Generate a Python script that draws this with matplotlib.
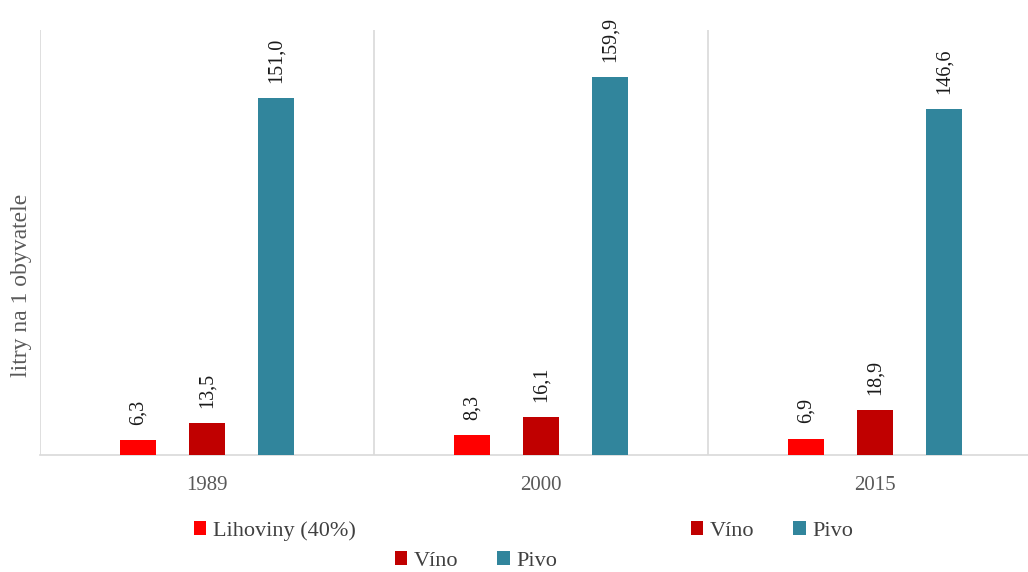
import numpy as np
import matplotlib
matplotlib.use("Agg")
from matplotlib import pyplot as plt

years = ["1989", "2000", "2015"]
lihoviny = [6.3, 8.3, 6.9]
vino = [13.5, 16.1, 18.9]
pivo = [151.0, 159.9, 146.6]

series = [
    ("Lihoviny (40%)", lihoviny, "#ff0000"),
    ("Víno", vino, "#c00000"),
    ("Pivo", pivo, "#31859c"),
]

plt.rcParams["font.family"] = ["Liberation Serif", "DejaVu Serif"]

W, H = 1028, 572
fig = plt.figure(figsize=(W / 100, H / 100), dpi=100)
ax = fig.add_axes([40 / W, 1 - 455 / H, 1002 / W, 425 / H])

x = np.arange(len(years))
width = 0.108
offset = 0.2066
bars = {}
for i, (name, vals, color) in enumerate(series):
    b = ax.bar(x + (i - 1) * offset, vals, width, color=color, label=name, zorder=3)
    bars[name] = b
    for rect, v in zip(b, vals):
        ax.annotate(f"{v:.1f}".replace(".", ","),
                    (rect.get_x() + rect.get_width() / 2, rect.get_height()),
                    xytext=(0, 11), textcoords="offset points",
                    rotation=90, ha="center", va="bottom",
                    fontsize=14.5, color="#1a1a1a")

ax.set_xlim(-0.5, len(years) - 0.5)
ax.set_ylim(0, 180)
ax.set_xticks(x)
ax.set_xticklabels(years, fontsize=15, color="#595959")
ax.tick_params(axis="x", length=0, pad=15)
ax.set_yticks([])

# category separators
for xb in np.arange(-0.5, len(years) - 0.4, 1.0):
    ax.axvline(xb, color="#d9d9d9", linewidth=1.2, zorder=1)

for s in ["top", "right", "left"]:
    ax.spines[s].set_visible(False)
ax.spines["bottom"].set_color("#d9d9d9")
ax.spines["bottom"].set_linewidth(1.2)

ax.set_ylabel("litry na 1 obyvatele", fontsize=17, color="#595959")
ax.yaxis.set_label_coords(-0.008, 0.40)

h_lih = bars["Lihoviny (40%)"]
h_vin = bars["Víno"]
h_piv = bars["Pivo"]
leg_kw = dict(frameon=False, fontsize=16, handlelength=0.55, handleheight=0.55,
              handletextpad=0.3, columnspacing=1.75, labelcolor="#404040",
              borderpad=0, borderaxespad=0)

fig.legend([h_lih], ["Lihoviny (40%)"], loc="center left",
           bbox_to_anchor=(194 / W, 1 - 531 / H), **leg_kw)
fig.legend([h_vin, h_piv], ["Víno", "Pivo"], loc="center left",
           bbox_to_anchor=(691 / W, 1 - 531 / H), ncol=2, **leg_kw)
fig.legend([h_vin, h_piv], ["Víno", "Pivo"], loc="center left",
           bbox_to_anchor=(395 / W, 1 - 561 / H), ncol=2, **leg_kw)

fig.savefig("out.png", dpi=100)
